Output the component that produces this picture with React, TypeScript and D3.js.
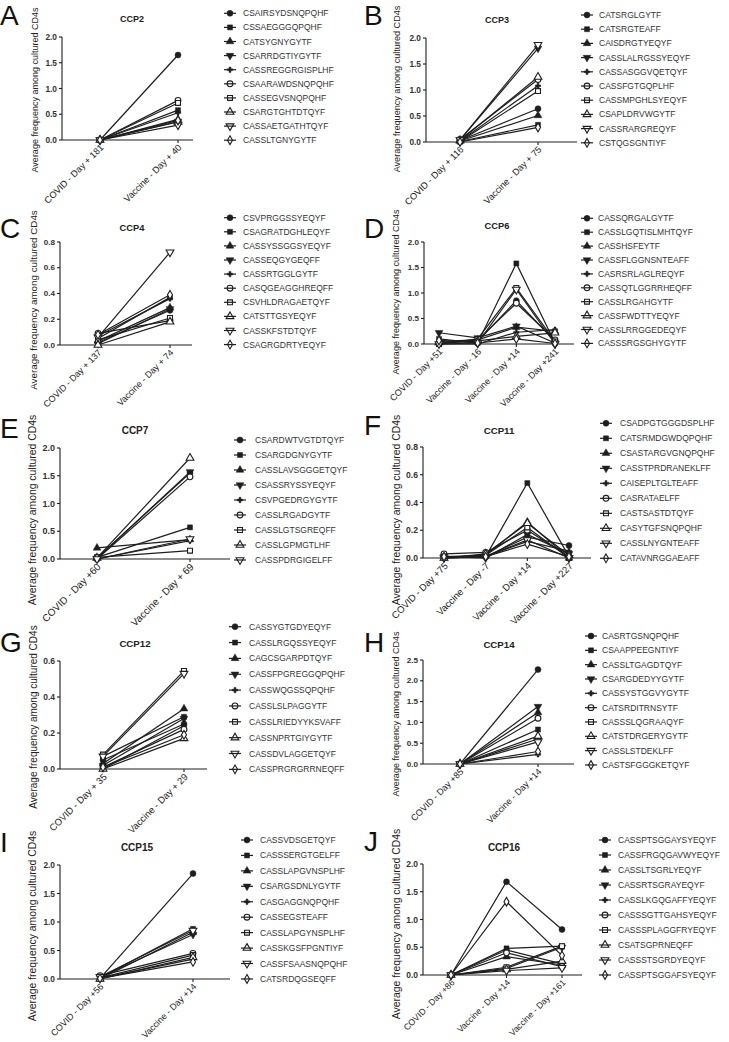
import React from "react";
import * as d3 from "d3";

// ---------------- DATA ----------------
const ccp2Categories = ["COVID - Day + 181", "Vaccine - Day + 40"];
const ccp2Clonotypes = ["CSAIRSYDSNQPQHF", "CSSAEGGGQPQHF", "CATSYGNYGYTF", "CSARRDGTIYGYTF", "CASSREGGRGISPLHF", "CSAARAWDSNQPQHF", "CASSEGVSNQPQHF", "CSARGTGHTDTQYF", "CASSAETGATHTQYF", "CASSLTGNYGYTF"];
const ccp2Values = [[0, 1.65], [0, 0.58], [0, 0.4], [0, 0.36], [0, 0.53], [0, 0.77], [0, 0.72], [0, 0.35], [0, 0.29], [0, 0.38]];

const ccp3Categories = ["COVID - Day + 116", "Vaccine - Day + 75"];
const ccp3Clonotypes = ["CATSRGLGYTF", "CATSRGTEAFF", "CAISDRGTYEQYF", "CASSLALRGSSYEQYF", "CASSASGGVQETQYF", "CASSFGTGQPLHF", "CASSMPGHLSYEQYF", "CSAPLDRVWGYTF", "CASSRARGREQYF", "CSTQGSGNTIYF"];
const ccp3Values = [[0.03, 0.64], [0.01, 0.33], [0.02, 0.51], [0.04, 1.8], [0.02, 1.08], [0.05, 1.2], [0.01, 0.98], [0.03, 1.25], [0.04, 1.87], [0.0, 0.28]];

const ccp4Categories = ["COVID - Day + 137", "Vaccine - Day + 74"];
const ccp4Clonotypes = ["CSVPRGGSSYEQYF", "CSAGRATDGHLEQYF", "CASSYSSGGSYEQYF", "CASSEQGYGEQFF", "CASSRTGGLGYTF", "CASQGEAGGHREQFF", "CSVHLDRAGAETQYF", "CATSTTGSYEQYF", "CASSKFSTDTQYF", "CSAGRGDRTYEQYF"];
const ccp4Values = [[0.02, 0.27], [0.05, 0.37], [0.03, 0.29], [0.01, 0.28], [0.07, 0.36], [0.09, 0.19], [0.04, 0.21], [0.0, 0.18], [0.06, 0.72], [0.08, 0.39]];

const ccp6Categories = ["COVID - Day +51", "Vaccine - Day - 16", "Vaccine - Day +14", "Vaccine - Day +241"];
const ccp6Clonotypes = ["CASSQRGALGYTF", "CASSLGQTISLMHTQYF", "CASSHSFEYTF", "CASSFLGGNSNTEAFF", "CASRSRLAGLREQYF", "CASSQTLGGRRHEQFF", "CASSLRGAHGYTF", "CASSFWDTTYEQYF", "CASSLRRGGEDEQYF", "CASSSRGSGHYGYTF"];
const ccp6Values = [
  [0.02, 0.05, 0.85, 0.05], [0.1, 0.02, 1.58, 0.02], [0.05, 0.08, 0.33, 0.25], [0.22, 0.12, 0.35, 0.02], [0.0, 0.0, 0.23, 0.28],
  [0.01, 0.08, 0.8, 0.08], [0.0, 0.1, 1.1, 0.05], [0.03, 0.06, 0.15, 0.22], [0.0, 0.02, 1.07, 0.0], [0.07, 0.02, 0.1, 0.01],
];

const ccp7Categories = ["COVID - Day +60", "Vaccine - Day + 69"];
const ccp7Clonotypes = ["CSARDWTVGTDTQYF", "CSARGDGNYGYTF", "CASSLAVSGGGETQYF", "CSASSRYSSYEQYF", "CSVPGEDRGYGYTF", "CASSLRGADGYTF", "CASSLGTSGREQFF", "CASSLGPMGTLHF", "CASSPDRGIGELFF"];
const ccp7Values = [[0.02, 1.55], [0.03, 0.57], [0.2, 0.35], [0.01, 1.57], [0.0, 0.33], [0.0, 1.48], [0.03, 0.15], [0.02, 1.82], [0.0, 0.36]];

const ccp11Categories = ["COVID - Day +75", "Vaccine - Day -7", "Vaccine - Day +14", "Vaccine - Day +227"];
const ccp11Clonotypes = ["CSADPGTGGGDSPLHF", "CATSRMDGWDQPQHF", "CSASTARGVGNQPQHF", "CASSTPRDRANEKLFF", "CAISEPLTGLTEAFF", "CASRATAELFF", "CASTSASTDTQYF", "CASYTGFSNQPQHF", "CASSLNYGNTEAFF", "CATAVNRGGAEAFF"];
const ccp11Values = [
  [0.0, 0.01, 0.15, 0.09], [0.01, 0.01, 0.54, 0.01], [0.0, 0.02, 0.26, 0.0], [0.01, 0.0, 0.17, 0.03], [0.0, 0.01, 0.12, 0.05],
  [0.03, 0.04, 0.2, 0.01], [0.01, 0.02, 0.22, 0.0], [0.0, 0.03, 0.25, 0.02], [0.0, 0.01, 0.13, 0.0], [0.01, 0.01, 0.1, 0.01],
];

const ccp12Categories = ["COVID - Day + 35", "Vaccine - Day + 29"];
const ccp12Clonotypes = ["CASSYGTGDYEQYF", "CASSLRGQSSYEQYF", "CAGCSGARPDTQYF", "CASSFPGREGGQPQHF", "CASSWQGSSQPQHF", "CASSLSLPAGGYTF", "CASSLRIEDYYKSVAFF", "CASSNPRTGIYGYTF", "CASSDVLAGGETQYF", "CASSPRGRGRRNEQFF"];
const ccp12Values = [[0.05, 0.25], [0.07, 0.29], [0.03, 0.335], [0.02, 0.28], [0.0, 0.24], [0.01, 0.22], [0.08, 0.545], [0.0, 0.17], [0.07, 0.53], [0.01, 0.19]];

const ccp14Categories = ["COVID - Day +85", "Vaccine - Day +14"];
const ccp14Clonotypes = ["CASRTGSNQPQHF", "CSAAPPEEGNTIYF", "CASSLTGAGDTQYF", "CSARGDEDYYGYTF", "CASSYSTGGVYGYTF", "CATSRDITRNSYTF", "CASSSLQGRAAQYF", "CATSTDRGERYGYTF", "CASSLSTDEKLFF", "CASTSFGGGKETQYF"];
const ccp14Values = [[0, 2.27], [0, 0.83], [0, 1.24], [0, 1.38], [0, 0.23], [0, 1.1], [0, 0.6], [0, 0.67], [0, 0.53], [0, 0.3]];

const ccp15Categories = ["COVID - Day +56", "Vaccine - Day +14"];
const ccp15Clonotypes = ["CASSVDSGETQYF", "CASSSERGTGELFF", "CASSLAPGVNSPLHF", "CSARGSDNLYGYTF", "CASGAGGNQPQHF", "CASSEGSTEAFF", "CASSLAPGYNSPLHF", "CASSKGSFPGNTIYF", "CASSFSAASNQPQHF", "CATSRDQGSEQFF"];
const ccp15Values = [[0.01, 1.85], [0.02, 0.88], [0.0, 0.82], [0.03, 0.78], [0.01, 0.35], [0.06, 0.45], [0.02, 0.42], [0.0, 0.38], [0.04, 0.85], [0.01, 0.3]];

const ccp16Categories = ["COVID - Day +86", "Vaccine - Day +14", "Vaccine - Day +161"];
const ccp16Clonotypes = ["CASSPTSGGAYSYEQYF", "CASSFRGQGAVWYEQYF", "CASSLTSGRLYEQYF", "CASSRTSGRAYEQYF", "CASSLKGQGAFFYEQYF", "CASSSGTTGAHSYEQYF", "CASSSPLAGGFRYEQYF", "CSATSGPRNEQFF", "CASSSTSGRDYEQYF", "CASSPTSGGAFSYEQYF"];
const ccp16Values = [
  [0, 1.68, 0.82], [0, 0.48, 0.52], [0, 0.33, 0.18], [0, 0.12, 0.5], [0, 0.45, 0.2],
  [0, 0.4, 0.15], [0, 0.14, 0.52], [0, 0.1, 0.25], [0, 0.08, 0.13], [0, 1.32, 0.35],
];

// ---------------- LAYOUT ----------------
const panels = [
  { letter: "A", lx: 0, ly: 25, title: "CCP2", tx: 132, ty: 19, tf: 9, axisX: 62, axisEnd: 193, yTop: 37, yBot: 140, cat0: 100, cat1: 178, yMax: 2, yStep: 0.5, labX: 35, labY: 90, labF: 9.0, tickF: 8.3, xTickF: 9.2, legX: 230, legTX: 243, legY0: 13.3, legStep: 14.1, cats: ccp2Categories, names: ccp2Clonotypes, vals: ccp2Values },
  { letter: "B", lx: 364, ly: 25, title: "CCP3", tx: 497, ty: 20, tf: 9, axisX: 426, axisEnd: 577, yTop: 38, yBot: 142, cat0: 460, cat1: 538, yMax: 2, yStep: 0.5, labX: 397, labY: 89, labF: 9.1, tickF: 8.3, xTickF: 9.2, legX: 587, legTX: 599, legY0: 15, legStep: 14.2, cats: ccp3Categories, names: ccp3Clonotypes, vals: ccp3Values },
  { letter: "C", lx: 0, ly: 238, title: "CCP4", tx: 132, ty: 228, tf: 9.3, axisX: 60, axisEnd: 192, yTop: 242, yBot: 345, cat0: 98, cat1: 170, yMax: 0.8, yStep: 0.2, labX: 33, labY: 300, labF: 9.8, tickF: 8.1, xTickF: 9.0, legX: 230, legTX: 243, legY0: 217.7, legStep: 14.1, cats: ccp4Categories, names: ccp4Clonotypes, vals: ccp4Values },
  { letter: "D", lx: 364, ly: 238, title: "CCP6", tx: 497, ty: 226, tf: 9.3, axisX: 424, axisEnd: 574, yTop: 242, yBot: 344, cat0: 439, cat1: 555, yMax: 2, yStep: 0.5, labX: 396, labY: 292, labF: 9.0, tickF: 8.1, xTickF: 9.0, legX: 587, legTX: 598, legY0: 218.3, legStep: 13.9, cats: ccp6Categories, names: ccp6Clonotypes, vals: ccp6Values },
  { letter: "E", lx: 0, ly: 438, title: "CCP7", tx: 135, ty: 430, tf: 10, axisX: 60, axisEnd: 230, yTop: 448, yBot: 559, cat0: 97, cat1: 190, yMax: 2, yStep: 0.5, labX: 32, labY: 510, labF: 10.4, tickF: 9, xTickF: 10, legX: 240, legTX: 255, legY0: 440, legStep: 15, cats: ccp7Categories, names: ccp7Clonotypes, vals: ccp7Values },
  { letter: "F", lx: 364, ly: 435, title: "CCP11", tx: 499, ty: 430, tf: 9.7, axisX: 423, axisEnd: 591, yTop: 447, yBot: 558, cat0: 444, cat1: 569, yMax: 0.8, yStep: 0.2, labX: 396, labY: 510, labF: 10.4, tickF: 8.6, xTickF: 9.6, legX: 606, legTX: 620, legY0: 423.3, legStep: 15, cats: ccp11Categories, names: ccp11Clonotypes, vals: ccp11Values },
  { letter: "G", lx: 0, ly: 652, title: "CCP12", tx: 135, ty: 643, tf: 9.7, axisX: 60, axisEnd: 207, yTop: 661, yBot: 769, cat0: 103, cat1: 184, yMax: 0.6, yStep: 0.2, labX: 33, labY: 717, labF: 10.0, tickF: 8.5, xTickF: 9.5, legX: 235, legTX: 249, legY0: 626.7, legStep: 15.85, cats: ccp12Categories, names: ccp12Clonotypes, vals: ccp12Values },
  { letter: "H", lx: 364, ly: 652, title: "CCP14", tx: 499, ty: 644, tf: 9.7, axisX: 423, axisEnd: 574, yTop: 660, yBot: 764, cat0: 460, cat1: 538, yMax: 2.5, yStep: 0.5, labX: 396, labY: 714, labF: 9.0, tickF: 8.1, xTickF: 9.0, legX: 591, legTX: 602, legY0: 636, legStep: 14.33, cats: ccp14Categories, names: ccp14Clonotypes, vals: ccp14Values },
  { letter: "I", lx: 0, ly: 852, title: "CCP15", tx: 137, ty: 847, tf: 10, axisX: 60, axisEnd: 230, yTop: 865, yBot: 979, cat0: 100, cat1: 193, yMax: 2, yStep: 0.5, labX: 32, labY: 926, labF: 10.4, tickF: 8.3, xTickF: 9.0, legX: 247, legTX: 260, legY0: 840, legStep: 15.44, cats: ccp15Categories, names: ccp15Clonotypes, vals: ccp15Values },
  { letter: "J", lx: 364, ly: 851, title: "CCP16", tx: 504, ty: 847, tf: 10, axisX: 423, axisEnd: 582, yTop: 864, yBot: 975, cat0: 451, cat1: 562, yMax: 2, yStep: 0.5, labX: 396, labY: 924, labF: 10.4, tickF: 8.5, xTickF: 8.7, legX: 605, legTX: 618, legY0: 840, legStep: 15, cats: ccp16Categories, names: ccp16Clonotypes, vals: ccp16Values },
];

const FONT = "'Liberation Sans', Arial, Helvetica, sans-serif";
const INK = "#1e1e1e";

const SHAPES = [
  { t: d3.symbolCircle, fill: true, rot: 0, s: 28 },
  { t: d3.symbolSquare, fill: true, rot: 0, s: 25 },
  { t: d3.symbolTriangle, fill: true, rot: 0, s: 26 },
  { t: d3.symbolTriangle, fill: true, rot: 180, s: 26 },
  { t: d3.symbolCross, fill: true, rot: 0, s: 16 },
  { t: d3.symbolCircle, fill: false, rot: 0, s: 26 },
  { t: d3.symbolSquare, fill: false, rot: 0, s: 24 },
  { t: d3.symbolTriangle, fill: false, rot: 0, s: 26 },
  { t: d3.symbolTriangle, fill: false, rot: 180, s: 26 },
  { t: d3.symbolDiamond, fill: false, rot: 0, s: 22 },
];

function Marker({ i, x, y, legend }: { i: number; x: number; y: number; legend?: boolean }) {
  const sh = SHAPES[i % SHAPES.length];
  const d = d3.symbol().type(sh.t).size(sh.s)() as string;
  return (
    <path
      d={d}
      transform={`translate(${x},${y}) rotate(${sh.rot})`}
      fill={sh.fill ? INK : legend ? "none" : "#fff"}
      stroke={INK}
      strokeWidth={sh.fill ? 0.5 : 1.1}
    />
  );
}

function Panel({ p }: { p: any }) {
  const y = d3.scaleLinear().domain([0, p.yMax]).range([p.yBot, p.yTop]);
  const x = d3.scalePoint<string>().domain(p.cats).range([p.cat0, p.cat1]);
  const line = d3
    .line<number>()
    .x((_, i) => x(p.cats[i]) as number)
    .y((d) => y(d));
  const ticks = d3.range(0, p.yMax + 1e-9, p.yStep);
  const fmt = d3.format(".1f");
  return (
    <g fontFamily={FONT}>
      <text x={p.lx} y={p.ly} fontSize={28} fill="#111">{p.letter}</text>
      <text x={p.tx} y={p.ty} fontSize={p.tf} fontWeight="bold" textAnchor="middle" dominantBaseline="central" fill="#222">{p.title}</text>
      <text
        transform={`translate(${p.labX},${p.labY}) rotate(-90)`}
        fontSize={p.labF}
        textAnchor="middle"
        dominantBaseline="central"
        fill="#222"
      >
        Average frequency among cultured CD4s
      </text>
      {/* axes */}
      <line x1={p.axisX} x2={p.axisX} y1={p.yBot} y2={p.yTop} stroke={INK} strokeWidth={1.1} />
      <line x1={p.axisX} x2={p.axisEnd} y1={p.yBot} y2={p.yBot} stroke={INK} strokeWidth={1.1} />
      {ticks.map((t: number) => (
        <g key={t}>
          <line x1={p.axisX - 3} x2={p.axisX} y1={y(t)} y2={y(t)} stroke={INK} strokeWidth={1.1} />
          <text x={p.axisX - 5} y={y(t)} fontSize={p.tickF} fontWeight="bold" textAnchor="end" dominantBaseline="central" fill="#333">
            {fmt(t)}
          </text>
        </g>
      ))}
      {p.cats.map((c: string) => (
        <g key={c}>
          <line x1={x(c)} x2={x(c)} y1={p.yBot} y2={p.yBot + 3} stroke={INK} strokeWidth={1.1} />
          <text
            transform={`translate(${(x(c) as number) + 2},${p.yBot + 6}) rotate(-45)`}
            fontSize={p.xTickF}
            textAnchor="end"
            dominantBaseline="central"
            fill="#222"
          >
            {c}
          </text>
        </g>
      ))}
      {/* series */}
      {p.vals.map((v: number[], i: number) => (
        <g key={i}>
          <path d={line(v) as string} fill="none" stroke={INK} strokeWidth={1.2} />
          {v.map((d: number, j: number) => (
            <Marker key={j} i={i} x={x(p.cats[j]) as number} y={y(d)} />
          ))}
        </g>
      ))}
      {/* legend */}
      {p.names.map((n: string, i: number) => {
        const ly = p.legY0 + i * p.legStep;
        return (
          <g key={n}>
            <line x1={p.legX - 6} x2={p.legX + 6} y1={ly} y2={ly} stroke={INK} strokeWidth={1.2} />
            <Marker i={i} x={p.legX} y={ly} legend />
            <text x={p.legTX} y={ly} fontSize={8.5} dominantBaseline="central" fill="#333">{n}</text>
          </g>
        );
      })}
    </g>
  );
}

export default function App() {
  return (
    <svg
      width={729}
      height={1042}
      viewBox="0 0 729 1042"
      style={{ position: "absolute", left: 0, top: 0, background: "#fff" }}
    >
      <rect width={729} height={1042} fill="#fff" />
      {panels.map((p) => (
        <Panel key={p.letter} p={p} />
      ))}
    </svg>
  );
}
